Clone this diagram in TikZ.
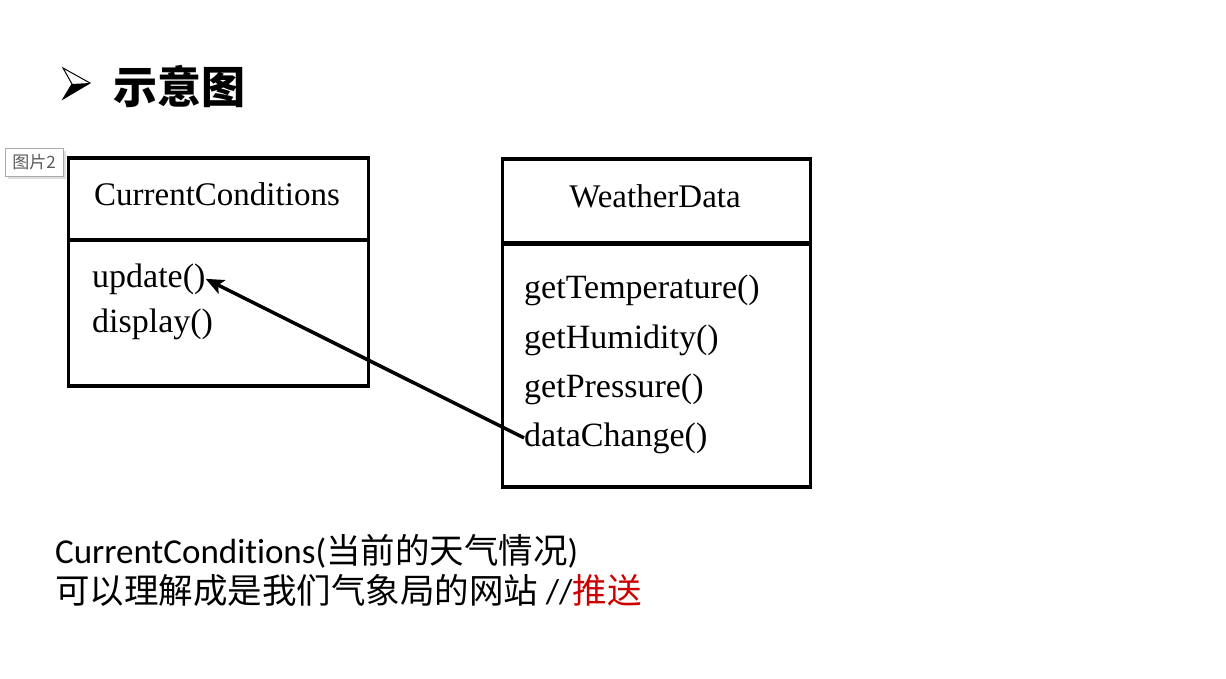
\documentclass[tikz,border=0pt]{standalone}
\usepackage{fontspec}
\setmainfont{Liberation Serif}
\newfontfamily\cjk{Noto Sans CJK SC}
\newfontfamily\lat[Ligatures={NoCommon}]{Carlito}
\usetikzlibrary{arrows.meta,shadows}
\definecolor{pushred}{RGB}{204,0,0}
\definecolor{tagborder}{RGB}{170,170,170}
\definecolor{tagtext}{RGB}{90,90,90}
\begin{document}
\begin{tikzpicture}[x=1pt,y=-1pt,
  umlbox/.style={draw, line width=3.8pt, inner sep=0pt, anchor=north west},
  divider/.style={line width=3.8pt},
  umltitle/.style={font=\fontsize{33}{33}\selectfont, inner sep=0pt, anchor=base},
  umlmethod/.style={font=\fontsize{34}{34}\selectfont, inner sep=0pt, anchor=base west},
  conn/.style={line width=3.5pt, -{Stealth[length=18pt,width=15pt,inset=4pt]}},
  bottomtext/.style={font=\fontsize{35}{35}\selectfont, inner sep=0pt, anchor=base west}]
\path[use as bounding box] (0,0) rectangle (1226,678);

% title
\fill (72,84) -- (63,99) -- (90,83) -- cycle;
\draw[line width=1pt, line join=miter] (63,68) -- (90,83) -- (63,99) -- (72,84) -- cycle;
\node[inner sep=0pt, anchor=west, font=\cjk\bfseries\fontsize{44}{44}\selectfont] (title) at (113,86) {示意图};

% tag
\node[draw=tagborder, fill=white, line width=1pt, minimum width=58, minimum height=28, inner sep=0pt,
  drop shadow={opacity=0.25, shadow xshift=2.5pt, shadow yshift=-2.5pt},
  text=tagtext, font=\cjk\fontsize{17}{17}\selectfont] (tag) at (34,162) {图片2};

% CurrentConditions box
\node[umlbox, minimum width=300, minimum height=228] (cc) at (66.5,156) {};
\coordinate (ccdiv) at (0,240);
\draw[divider] (cc.west |- ccdiv) -- (cc.east |- ccdiv);
\node[umltitle] (cctitle) at (217,205) {CurrentConditions};
\node[umlmethod] (up) at (92,287) {update()};
\node[umlmethod] (disp) at (92,332) {display()};

% WeatherData box
\node[umlbox, minimum width=308, minimum height=328] (wd) at (500.5,157) {};
\coordinate (wddiv) at (0,243);
\draw[divider, line width=5pt] (wd.west |- wddiv) -- (wd.east |- wddiv);
\node[umltitle] (wdtitle) at (655,207) {WeatherData};
\node[umlmethod] (gt) at (524,298) {getTemperature()};
\node[umlmethod] (gh) at (524,348) {getHumidity()};
\node[umlmethod] (gp) at (524,397) {getPressure()};
\node[umlmethod] (dc) at (524,446) {dataChange()};

% connector
\draw[conn] (dc.west) -- (up.east);

% bottom text
\node[bottomtext] (line1) at (55,563) {\lat CurrentConditions(\cjk\fontsize{34.5}{35}\selectfont 当前的天气情况\lat )};
\node[bottomtext] (line2) at (55,603) {\cjk\fontsize{34.5}{35}\selectfont 可以理解成是我们气象局的网站 \lat //\textcolor{pushred}{\cjk 推送}};
\end{tikzpicture}
\end{document}
